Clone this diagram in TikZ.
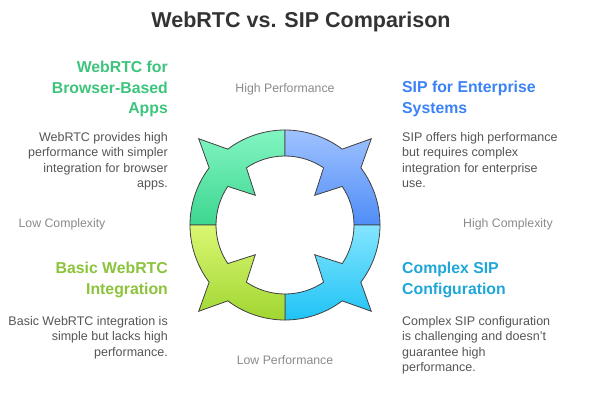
\documentclass[tikz,border=0pt]{standalone}
\usepackage{fontspec}
\setmainfont{Liberation Sans}
\usetikzlibrary{calc}
\definecolor{tt}{HTML}{333333}
\definecolor{bd}{HTML}{555555}
\definecolor{ax}{HTML}{8A8A8A}
\definecolor{cA}{HTML}{3CC47C}
\definecolor{cB}{HTML}{3B82F6}
\definecolor{cC}{HTML}{1EA7D8}
\definecolor{cD}{HTML}{8BC33A}
\definecolor{gAt}{HTML}{82F5C2}\definecolor{gAb}{HTML}{3DD690}
\definecolor{gBt}{HTML}{A0C2FF}\definecolor{gBb}{HTML}{4F8DF7}
\definecolor{gCt}{HTML}{84E5FF}\definecolor{gCb}{HTML}{1FC3F5}
\definecolor{gDt}{HTML}{DAF772}\definecolor{gDb}{HTML}{A0D632}
\begin{document}
\begin{tikzpicture}[x=1pt,y=-1pt,
  head/.style={font=\fontsize{15.8}{20.5}\selectfont\bfseries,inner sep=0},
  body/.style={font=\fontsize{12.5}{15.5}\selectfont,text=bd,inner sep=0},
  axl/.style={font=\fontsize{12.3}{14}\selectfont,text=ax,inner sep=0},
  seg/.style={draw=black!75,line width=0.8pt,line join=miter}]
\useasboundingbox (0,0) rectangle (602,404);
\coordinate (c) at (285,225);
\foreach \a/\ct/\cb in {225/gAt/gAb,315/gBt/gBb,45/gCt/gCb,135/gDt/gDb}{
  \shade[seg,top color=\ct,bottom color=\cb]
  ($(c)+(\a-45:95)$) arc[start angle=\a-45,end angle=\a-8,radius=95]
  -- ($(c)+(\a:122)$) -- ($(c)+(\a+8:95)$)
  arc[start angle=\a+8,end angle=\a+45,radius=95]
  -- ($(c)+(\a+45:69)$)
  arc[start angle=\a+45,end angle=\a+11,radius=69]
  -- ($(c)+(\a:42)$) -- ($(c)+(\a-11:69)$)
  arc[start angle=\a-11,end angle=\a-45,radius=69] -- cycle;
}
\node[font=\fontsize{21.5}{24}\selectfont\bfseries,text=tt] (title) at (301,22) {WebRTC vs. SIP Comparison};
\node[axl] (hp) at (285,89) {High Performance};
\node[axl] (lp) at (285,360) {Low Performance};
\node[axl] (lc) at (62,224) {Low Complexity};
\node[axl] (hc) at (508,224) {High Complexity};
\node[head,text=cA,align=right,anchor=north east] (h1) at (168,61) {WebRTC for\\Browser-Based\\Apps};
\node[body,align=right,anchor=north east] (b1) at (168,132) {WebRTC provides high\\performance with simpler\\integration for browser\\apps.};
\node[head,text=cB,align=left,anchor=north west] (h2) at (402,81) {SIP for Enterprise\\Systems};
\node[body,align=left,anchor=north west] (b2) at (402,132) {SIP offers high performance\\but requires complex\\integration for enterprise\\use.};
\node[head,text=cD,align=right,anchor=north east] (h3) at (168,262) {Basic WebRTC\\Integration};
\node[body,align=right,anchor=north east] (b3) at (168,316) {Basic WebRTC integration is\\simple but lacks high\\performance.};
\node[head,text=cC,align=left,anchor=north west] (h4) at (402,262) {Complex SIP\\Configuration};
\node[body,align=left,anchor=north west] (b4) at (402,316) {Complex SIP configuration\\is challenging and doesn't\\guarantee high\\performance.};
\end{tikzpicture}
\end{document}
